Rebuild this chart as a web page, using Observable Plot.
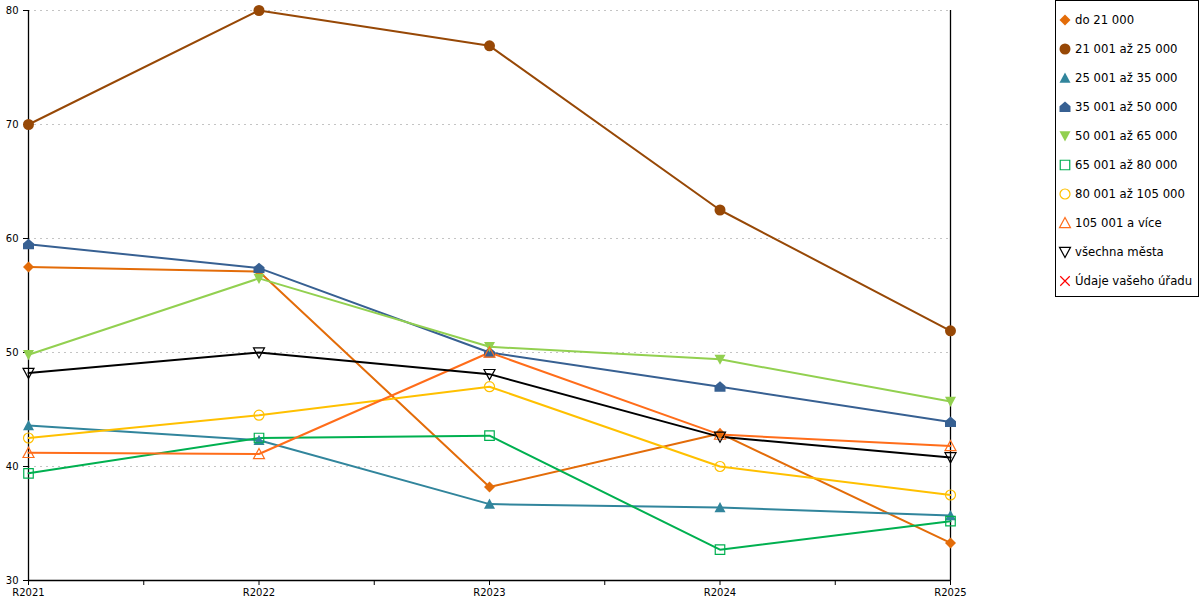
<!DOCTYPE html>
<html>
<head>
<meta charset="utf-8">
<script src="https://cdn.jsdelivr.net/npm/d3@7"></script>
<script src="https://cdn.jsdelivr.net/npm/@observablehq/plot@0.6"></script>
<style>
  html, body { margin: 0; padding: 0; background: #fff; }
  #wrap { position: relative; width: 1200px; height: 600px; font-family: "DejaVu Sans", Verdana, sans-serif; }
  #legend { position: absolute; left: 1055px; top: 0px; width: 144px; height: 297px; border: 1px solid #000; box-sizing: border-box; background: #fff; }
  .li { position: absolute; left: 2px; height: 16px; display: flex; align-items: center; font-size: 11.7px; color: #000; white-space: nowrap; }
  .li svg { margin-right: 3px; }
</style>
</head>
<body>
<div id="wrap"><div id="chart"></div><div id="legend"></div></div>
<script>
// ---- data ----
const years = ["R2021", "R2022", "R2023", "R2024", "R2025"];
const yTicks = [30, 40, 50, 60, 70, 80];
const gridValues = [40, 50, 60, 70, 80];
const xTicks = [0, 0.5, 1, 1.5, 2, 2.5, 3, 3.5, 4];

const seriesNames = ["do 21 000", "21 001 až 25 000", "25 001 až 35 000", "35 001 až 50 000",
  "50 001 až 65 000", "65 001 až 80 000", "80 001 až 105 000", "105 001 a více",
  "všechna města", "Údaje vašeho úřadu"];

const sDo21000   = [57.5, 57.1, 38.2, 42.9, 33.3];
const s21_25     = [70.0, 80.0, 76.9, 62.5, 51.9];
const s25_35     = [43.6, 42.3, 36.7, 36.4, 35.7];
const s35_50     = [59.5, 57.4, 50.0, 47.0, 43.9];
const s50_65     = [49.8, 56.5, 50.5, 49.4, 45.7];
const s65_80     = [39.4, 42.5, 42.7, 32.7, 35.2];
const s80_105    = [42.5, 44.5, 47.0, 40.0, 37.5];
const s105plus   = [41.2, 41.1, 50.0, 42.8, 41.8];
const sVsechna   = [48.2, 50.0, 48.1, 42.6, 40.8];
const sUrad      = [];

const seriesValues = [sDo21000, s21_25, s25_35, s35_50, s50_65, s65_80, s80_105, s105plus, sVsechna, sUrad];
const colors = ["#E36C09", "#974806", "#31859C", "#376092", "#92D050", "#00B050", "#FFC000", "#FF6D1A", "#000000", "#FF0000"];
const filled = [true, true, true, true, true, false, false, false, false, false];

// ---- custom symbols ----
const rOf = size => Math.sqrt(size / Math.PI);
const symDiamond = {draw(c, s) { const h = rOf(s); c.moveTo(0, -h); c.lineTo(h, 0); c.lineTo(0, h); c.lineTo(-h, 0); c.closePath(); }};
const symCircle = {draw(c, s) { const h = rOf(s); c.moveTo(h, 0); c.arc(0, 0, h, 0, 2 * Math.PI); c.closePath(); }};
const symTriUp = {draw(c, s) { const h = rOf(s); c.moveTo(0, -h); c.lineTo(h, h * 0.85); c.lineTo(-h, h * 0.85); c.closePath(); }};
const symHouse = {draw(c, s) { const h = rOf(s); c.moveTo(0, -h); c.lineTo(h, -h * 0.15); c.lineTo(h, h * 0.9); c.lineTo(-h, h * 0.9); c.lineTo(-h, -h * 0.15); c.closePath(); }};
const symTriDown = {draw(c, s) { const h = rOf(s); c.moveTo(-h, -h * 0.85); c.lineTo(h, -h * 0.85); c.lineTo(0, h); c.closePath(); }};
const symSquare = {draw(c, s) { const h = rOf(s) * 0.95; c.rect(-h, -h, 2 * h, 2 * h); }};
const symX = {draw(c, s) { const h = rOf(s) * 0.95; c.moveTo(-h, -h); c.lineTo(h, h); c.moveTo(h, -h); c.lineTo(-h, h); }};
const symbols = [symDiamond, symCircle, symTriUp, symHouse, symTriDown, symSquare, symCircle, symTriUp, symTriDown, symX];
const radii = [5.5, 5.5, 5.5, 5.5, 5.5, 5, 5, 5.5, 5.5, 5];

// ---- table ----
const rows = seriesValues.map((vals, si) => vals.map((v, i) => ({series: si, i, year: years[i], value: v})));

const marks = [
  Plot.ruleY(gridValues, {stroke: "#c4c4c4", strokeDasharray: "2,4", strokeWidth: 1}),
  Plot.axisY({ticks: yTicks, tickSize: 5, tickPadding: 5, tickFormat: d => String(d), label: null, fontSize: 10}),
  Plot.axisX({ticks: xTicks, tickSize: 5, tickPadding: 3, tickFormat: d => Number.isInteger(d) ? years[d] : "", label: null, fontSize: 10}),
  Plot.ruleX([0, years.length - 1], {stroke: "#000", strokeWidth: 1.3}),
  Plot.ruleY([yTicks[0]], {stroke: "#000", strokeWidth: 1.3})
];
rows.forEach((data, si) => {
  if (data.length) marks.push(Plot.line(data, {x: "i", y: "value", stroke: colors[si], strokeWidth: 2, curve: "linear"}));
});
rows.forEach((data, si) => {
  if (!data.length) return;
  marks.push(Plot.dot(data, filled[si]
    ? {x: "i", y: "value", symbol: symbols[si], r: radii[si], fill: colors[si], stroke: "none"}
    : {x: "i", y: "value", symbol: symbols[si], r: radii[si], fill: "#fff", fillOpacity: 0, stroke: colors[si], strokeWidth: 1.2}));
});

const chart = Plot.plot({
  width: 1200,
  height: 600,
  marginLeft: 28,
  marginRight: 250,
  marginTop: 10,
  marginBottom: 20,
  style: {fontFamily: "'DejaVu Sans', Verdana, sans-serif", color: "#000", background: "#fff", overflow: "visible"},
  x: {type: "linear", domain: [0, years.length - 1]},
  y: {type: "linear", domain: [yTicks[0], yTicks[yTicks.length - 1]]},
  marks
});
document.getElementById("chart").appendChild(chart);

// ---- legend ----
const legend = document.getElementById("legend");
seriesNames.forEach((name, si) => {
  const item = document.createElement("div");
  item.className = "li";
  item.style.top = (11 + si * 29) + "px";
  const r = radii[si];
  const path = d3.symbol(symbols[si], Math.PI * r * r)();
  const style = filled[si]
    ? `fill="${colors[si]}" stroke="none"`
    : `fill="none" stroke="${colors[si]}" stroke-width="1.2"`;
  item.innerHTML = `<svg width="14" height="14" viewBox="-7 -7 14 14"><path d="${path}" ${style}/></svg><span>${name}</span>`;
  legend.appendChild(item);
});
</script>
</body>
</html>
